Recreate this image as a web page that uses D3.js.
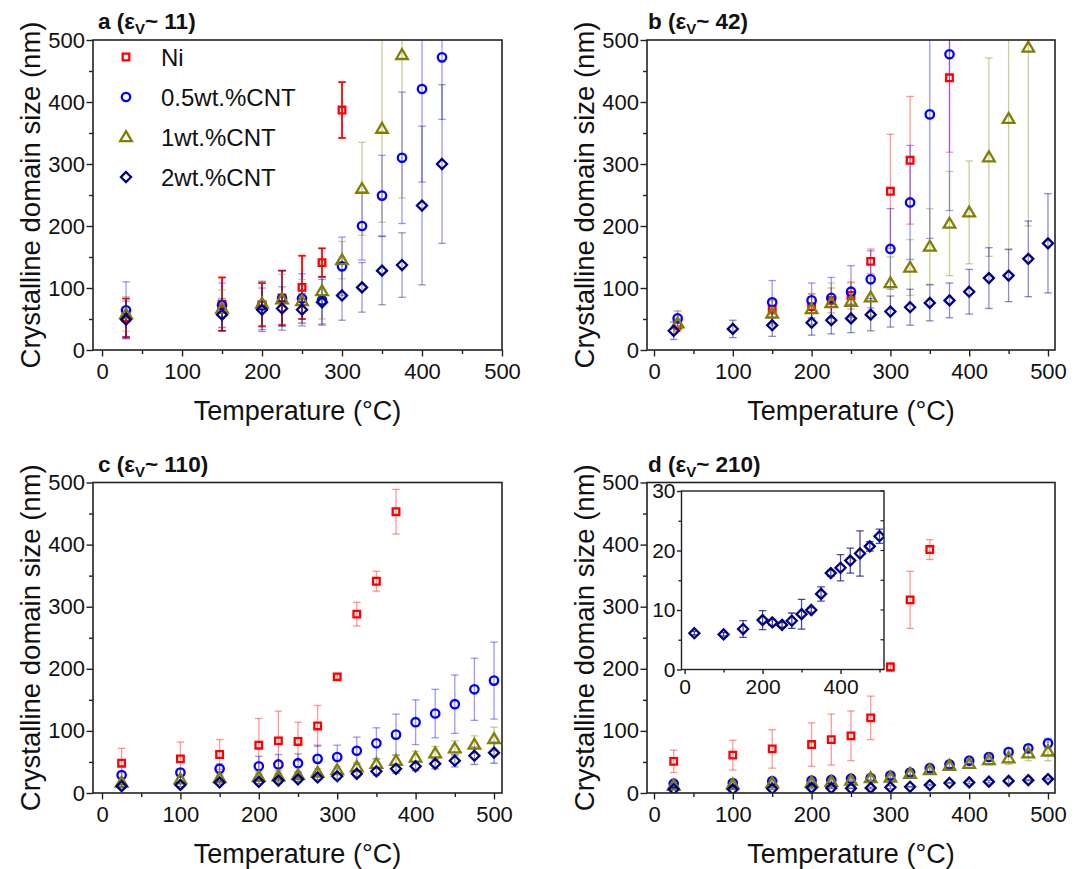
<!DOCTYPE html>
<html>
<head>
<meta charset="utf-8">
<script src="https://cdn.jsdelivr.net/npm/d3@7"></script>
<style>
  body { margin: 0; background: #fff; }
  svg { display: block; }
  text { font-family: "Liberation Sans", Arial, Helvetica, sans-serif; fill: #111; }
</style>
</head>
<body>
<svg id="fig" width="1079" height="869"></svg>
<script>
// ---- series ----
const seriesNames  = ["Ni", "0.5wt.%CNT", "1wt.%CNT", "2wt.%CNT"];
const seriesColors = ["#ff0000", "#0000ff", "#808000", "#000080"];
const seriesShapes = ["square", "circle", "triangle", "diamond"];

// ---- panel a (εV ~ 11) ----
const tempA_Ni    = [30, 150, 200, 225, 250, 275, 300];
const sizeA_Ni    = [52, 74, 73, 84, 101, 141, 387];
const errA_Ni     = [31, 43, 35, 44, 51, 23, 45];
const tempA_CNT05 = [30, 150, 200, 225, 250, 275, 300, 325, 350, 375, 400, 425];
const sizeA_CNT05 = [64, 72, 72, 83, 83, 80, 135, 200, 249, 310, 421, 472];
const errA_CNT05  = [46, 36, 39, 45, 40, 38, 47, 55, 65, 106, 150, 100];
const tempA_CNT1  = [30, 150, 200, 225, 250, 275, 300, 325, 350, 375];
const sizeA_CNT1  = [58, 67, 75, 82, 79, 95, 145, 260, 357, 476];
const errA_CNT1   = [28, 30, 35, 40, 35, 45, 30, 75, 151, 231];
const tempA_CNT2  = [30, 150, 200, 225, 250, 275, 300, 325, 350, 375, 400, 425];
const sizeA_CNT2  = [49, 57, 65, 67, 65, 77, 88, 101, 128, 137, 233, 300];
const errA_CNT2   = [30, 26, 35, 35, 26, 37, 40, 40, 55, 52, 128, 128];

// ---- panel b (εV ~ 42) ----
const tempB_Ni    = [30, 150, 200, 225, 250, 275, 300, 325, 375];
const sizeB_Ni    = [40, 66, 70, 80, 88, 143, 256, 306, 439];
const errB_Ni     = [10, 15, 20, 20, 22, 20, 92, 103, 120];
const tempB_CNT05 = [30, 150, 200, 225, 250, 275, 300, 325, 350, 375];
const sizeB_CNT05 = [51, 77, 80, 84, 94, 114, 163, 238, 380, 477];
const errB_CNT05  = [12, 35, 28, 33, 42, 46, 65, 92, 200, 252];
const tempB_CNT1  = [30, 150, 200, 225, 250, 275, 300, 325, 350, 375, 400, 425, 450, 475];
const sizeB_CNT1  = [43, 59, 66, 76, 78, 85, 108, 133, 167, 204, 222, 311, 373, 488];
const errB_CNT1   = [12, 20, 25, 32, 30, 30, 42, 45, 61, 84, 83, 160, 210, 288];
const tempB_CNT2  = [25, 100, 150, 200, 225, 250, 275, 300, 325, 350, 375, 400, 425, 450, 475, 500];
const sizeB_CNT2  = [31, 34, 40, 44, 48, 51, 57, 62, 69, 76, 80, 94, 116, 120, 147, 172];
const errB_CNT2   = [14, 14, 18, 20, 22, 23, 26, 25, 29, 29, 28, 36, 49, 42, 61, 80];

// ---- panel c (εV ~ 110) ----
const tempC_Ni    = [25, 100, 150, 200, 225, 250, 275, 300, 325, 350, 375];
const sizeC_Ni    = [48, 55, 62, 77, 84, 83, 108, 187, 288, 341, 453];
const errC_Ni     = [24, 27, 24, 43, 48, 31, 33, 3, 19, 16, 36];
const tempC_CNT   = [25, 100, 150, 200, 225, 250, 275, 300, 325, 350, 375, 400, 425, 450, 475, 500];
const sizeC_CNT05 = [29, 33, 39, 43, 46, 48, 55, 58, 68, 80, 94, 114, 128, 143, 167, 181];
const errC_CNT05  = [5, 6, 8, 16, 16, 15, 22, 19, 22, 25, 33, 36, 39, 47, 50, 62];
const sizeC_CNT1  = [17, 22, 24, 26, 27, 29, 33, 37, 42, 47, 52, 57, 64, 72, 78, 87];
const errC_CNT1   = [4, 4, 4, 5, 5, 5, 6, 6, 7, 8, 9, 10, 11, 12, 14, 19];
const sizeC_CNT2  = [11, 13, 17, 18, 20, 22, 25, 27, 31, 35, 39, 43, 47, 52, 60, 65];
const errC_CNT2   = [3, 3, 3, 3, 4, 4, 4, 5, 5, 6, 7, 7, 8, 10, 14, 17];

// ---- panel d (εV ~ 210) ----
const tempD_Ni    = [25, 100, 150, 200, 225, 250, 275, 300, 325, 350];
const sizeD_Ni    = [51, 61, 71, 78, 86, 92, 121, 203, 311, 392];
const errD_Ni     = [18, 24, 31, 35, 41, 40, 35, 7, 46, 16];
const tempD_CNT   = [25, 100, 150, 200, 225, 250, 275, 300, 325, 350, 375, 400, 425, 450, 475, 500];
const sizeD_CNT05 = [15, 16, 19, 20, 21, 23, 24, 28, 33, 40, 46, 52, 58, 66, 72, 80];
const errD_CNT05  = [3, 3, 3, 3, 3, 3, 3, 4, 4, 5, 5, 5, 6, 6, 6, 8];
const sizeD_CNT1  = [12, 14, 16, 17, 18, 20, 24, 25, 31, 37, 44, 47, 53, 56, 64, 67];
const errD_CNT1   = [3, 3, 3, 3, 3, 4, 4, 4, 5, 5, 6, 7, 8, 10, 12, 15];
const sizeD_CNT2  = [6.1, 5.9, 6.8, 8.3, 7.9, 7.5, 8.2, 9.3, 10.0, 12.7, 16.2, 17.1, 18.3, 19.5, 20.7, 22.4];
const errD_CNT2   = [0.3, 0.3, 1.4, 1.6, 0.5, 0.4, 1.3, 2.5, 0.4, 1.2, 0.5, 2.2, 2.1, 3.8, 0.8, 1.2];

// ---- axis ticks ----
const xMajorTicks = [0, 100, 200, 300, 400, 500];
const xMinorTicks = [50, 150, 250, 350, 450];
const yMajorTicks = [0, 100, 200, 300, 400, 500];
const yMinorTicks = [50, 150, 250, 350, 450];
const insetXMajor = [0, 200, 400];
const insetXMinor = [100, 300, 500];
const insetYMajor = [0, 10, 20, 30];
const insetYMinor = [5, 15, 25];

const xTitle = "Temperature (°C)";
const yTitle = "Crystalline domain size (nm)";

function zipSeries(t, v, e) { return t.map((d, i) => ({ t: d, v: v[i], e: e[i] })); }

const panels = [
  { letter: "a", eps: "11", left: 93, right: 502, top: 40, bottom: 350, xmin: -11.3, xmax: 500,
    errOpacity: [1, 0.4, 0.4, 0.4],
    data: [zipSeries(tempA_Ni, sizeA_Ni, errA_Ni), zipSeries(tempA_CNT05, sizeA_CNT05, errA_CNT05),
           zipSeries(tempA_CNT1, sizeA_CNT1, errA_CNT1), zipSeries(tempA_CNT2, sizeA_CNT2, errA_CNT2)],
    legend: true },
  { letter: "b", eps: "42", left: 647, right: 1055, top: 40, bottom: 350, xmin: -8.9, xmax: 508.9,
    errOpacity: [0.4, 0.4, 0.4, 0.45],
    data: [zipSeries(tempB_Ni, sizeB_Ni, errB_Ni), zipSeries(tempB_CNT05, sizeB_CNT05, errB_CNT05),
           zipSeries(tempB_CNT1, sizeB_CNT1, errB_CNT1), zipSeries(tempB_CNT2, sizeB_CNT2, errB_CNT2)] },
  { letter: "c", eps: "110", left: 93, right: 502, top: 482.5, bottom: 793, xmin: -11.5, xmax: 510.2,
    errOpacity: [0.4, 0.4, 0.4, 0.45],
    data: [zipSeries(tempC_Ni, sizeC_Ni, errC_Ni), zipSeries(tempC_CNT, sizeC_CNT05, errC_CNT05),
           zipSeries(tempC_CNT, sizeC_CNT1, errC_CNT1), zipSeries(tempC_CNT, sizeC_CNT2, errC_CNT2)] },
  { letter: "d", eps: "210", left: 647, right: 1055, top: 482.5, bottom: 793, xmin: -8.9, xmax: 508.9,
    errOpacity: [0.4, 0.4, 0.4, 0.45],
    data: [zipSeries(tempD_Ni, sizeD_Ni, errD_Ni), zipSeries(tempD_CNT, sizeD_CNT05, errD_CNT05),
           zipSeries(tempD_CNT, sizeD_CNT1, errD_CNT1), zipSeries(tempD_CNT, sizeD_CNT2, errD_CNT2)],
    inset: { left: 681.5, right: 884, top: 491, bottom: 669.5, xmin: -8, xmax: 511.5, ymin: 0, ymax: 30 } }
];

const shapePaths = {
  square:   "M-3.3,-3.3H3.3V3.3H-3.3Z",
  circle:   d3.symbol(d3.symbolCircle, Math.PI * 4.2 * 4.2)(),
  triangle: "M0,-5.8L5.8,4.1L-5.8,4.1Z",
  diamond:  "M0,-5L5,0L0,5L-5,0Z"
};

const svg = d3.select("#fig");

function drawAxes(g, x, y, opt) {
  const fs = opt.fontSize;
  const xa = g.append("g").attr("transform", `translate(0,${opt.bottom})`)
    .call(d3.axisBottom(x).tickValues(opt.xMajor).tickSize(opt.major).tickSizeOuter(0).tickPadding(opt.xPad));
  const xm = g.append("g").attr("transform", `translate(0,${opt.bottom})`)
    .call(d3.axisBottom(x).tickValues(opt.xMinor).tickSize(opt.minor).tickSizeOuter(0).tickFormat(""));
  const ya = g.append("g").attr("transform", `translate(${opt.left},0)`)
    .call(d3.axisLeft(y).tickValues(opt.yMajor).tickSize(opt.major).tickSizeOuter(0).tickPadding(opt.yPad));
  const ym = g.append("g").attr("transform", `translate(${opt.left},0)`)
    .call(d3.axisLeft(y).tickValues(opt.yMinor).tickSize(opt.minor).tickSizeOuter(0).tickFormat(""));
  [xa, xm, ya, ym].forEach(a => {
    a.select(".domain").remove();
    a.selectAll("line").attr("stroke", "#222").attr("stroke-width", 1.4);
    a.selectAll("text").attr("font-size", fs).attr("fill", "#111")
      .attr("font-family", '"Liberation Sans", Arial, Helvetica, sans-serif');
  });
}

function drawSeries(g, x, y, data, errOpacity) {
  const cap = 3.8;
  data.forEach((ser, si) => {
    const eg = g.append("g").attr("stroke", seriesColors[si])
      .attr("stroke-opacity", errOpacity[si]).attr("stroke-width", si === 0 && errOpacity[si] > 0.9 ? 1.8 : 1.3)
      .attr("fill", "none");
    ser.forEach(d => {
      const px = x(d.t), y1 = y(d.v + d.e), y0 = y(d.v - d.e);
      eg.append("line").attr("x1", px).attr("x2", px).attr("y1", y1).attr("y2", y0);
      eg.append("line").attr("x1", px - cap).attr("x2", px + cap).attr("y1", y1).attr("y2", y1);
      eg.append("line").attr("x1", px - cap).attr("x2", px + cap).attr("y1", y0).attr("y2", y0);
    });
  });
  data.forEach((ser, si) => {
    g.append("g").selectAll("path").data(ser).join("path")
      .attr("d", shapePaths[seriesShapes[si]])
      .attr("transform", d => `translate(${x(d.t)},${y(d.v)})`)
      .attr("fill", "none").attr("stroke", seriesColors[si]).attr("stroke-width", 2.3)
      .attr("stroke-linejoin", "miter");
  });
}

panels.forEach((p) => {
  const g = svg.append("g");
  const x = d3.scaleLinear().domain([p.xmin, p.xmax]).range([p.left, p.right]);
  const y = d3.scaleLinear().domain([0, 500]).range([p.bottom, p.top]);

  const clipId = "clip-" + p.letter;
  svg.append("clipPath").attr("id", clipId).append("rect")
    .attr("x", p.left).attr("y", p.top).attr("width", p.right - p.left).attr("height", p.bottom - p.top);

  const plot = g.append("g").attr("clip-path", `url(#${clipId})`);
  drawSeries(plot, x, y, p.data, p.errOpacity);

  g.append("rect").attr("x", p.left).attr("y", p.top)
    .attr("width", p.right - p.left).attr("height", p.bottom - p.top)
    .attr("fill", "none").attr("stroke", "#222").attr("stroke-width", 1.6);

  drawAxes(g, x, y, { bottom: p.bottom, left: p.left, xMajor: xMajorTicks, xMinor: xMinorTicks,
    yMajor: yMajorTicks, yMinor: yMinorTicks, major: 6.5, minor: 4, xPad: 7, yPad: 1.5, fontSize: 22 });

  // axis titles
  g.append("text").attr("x", (p.left + p.right) / 2).attr("y", p.bottom + 70)
    .attr("text-anchor", "middle").attr("font-size", 27).text(xTitle);
  const yx = p.left - 53;
  const yc = (p.top + p.bottom) / 2;
  g.append("text").attr("transform", `translate(${yx},${yc}) rotate(-90)`)
    .attr("text-anchor", "middle").attr("font-size", 27.5).text(yTitle);

  // panel label
  const tx = p.left + (p.letter === "a" || p.letter === "c" ? 5 : 1);
  const title = g.append("text").attr("x", tx).attr("y", p.top - 11)
    .attr("font-size", 22.5).attr("font-weight", "bold");
  title.append("tspan").text(p.letter + " (ε");
  title.append("tspan").attr("font-size", 15).attr("dy", 5).text("V");
  title.append("tspan").attr("dy", -5).text("~ " + p.eps + ")");

  if (p.legend) {
    const lg = g.append("g");
    seriesNames.forEach((name, si) => {
      const ly = 57 + si * 40;
      lg.append("path").attr("d", shapePaths[seriesShapes[si]])
        .attr("transform", `translate(126,${ly})`)
        .attr("fill", "none").attr("stroke", seriesColors[si]).attr("stroke-width", 2.3);
      lg.append("text").attr("x", 161).attr("y", ly).attr("dy", "0.36em")
        .attr("font-size", 24).text(name);
    });
  }

  if (p.inset) {
    const s = p.inset;
    const ig = g.append("g");
    ig.append("rect").attr("x", s.left).attr("y", s.top)
      .attr("width", s.right - s.left).attr("height", s.bottom - s.top).attr("fill", "#fff");
    const ix = d3.scaleLinear().domain([s.xmin, s.xmax]).range([s.left, s.right]);
    const iy = d3.scaleLinear().domain([s.ymin, s.ymax]).range([s.bottom, s.top]);
    const iclip = "clip-inset";
    svg.append("clipPath").attr("id", iclip).append("rect")
      .attr("x", s.left).attr("y", s.top).attr("width", s.right - s.left).attr("height", s.bottom - s.top);
    const ip = ig.append("g").attr("clip-path", `url(#${iclip})`);
    const blank = [[], [], []];
    drawSeries(ip, ix, iy, [...blank, p.data[3]], [0, 0, 0, 0.7]);
    ig.append("rect").attr("x", s.left).attr("y", s.top)
      .attr("width", s.right - s.left).attr("height", s.bottom - s.top)
      .attr("fill", "none").attr("stroke", "#222").attr("stroke-width", 1.4);
    drawAxes(ig, ix, iy, { bottom: s.bottom, left: s.left, xMajor: insetXMajor, xMinor: insetXMinor,
      yMajor: insetYMajor, yMinor: insetYMinor, major: 4.5, minor: 3, xPad: 5, yPad: 1.5, fontSize: 21 });
    // inward ticks along the right edge
    const rt = ig.append("g").attr("stroke", "#222").attr("stroke-width", 1.2);
    insetYMajor.concat(insetYMinor).forEach(v => {
      rt.append("line").attr("x1", s.right).attr("x2", s.right - 3.5).attr("y1", iy(v)).attr("y2", iy(v));
    });
  }
});
</script>
</body>
</html>
